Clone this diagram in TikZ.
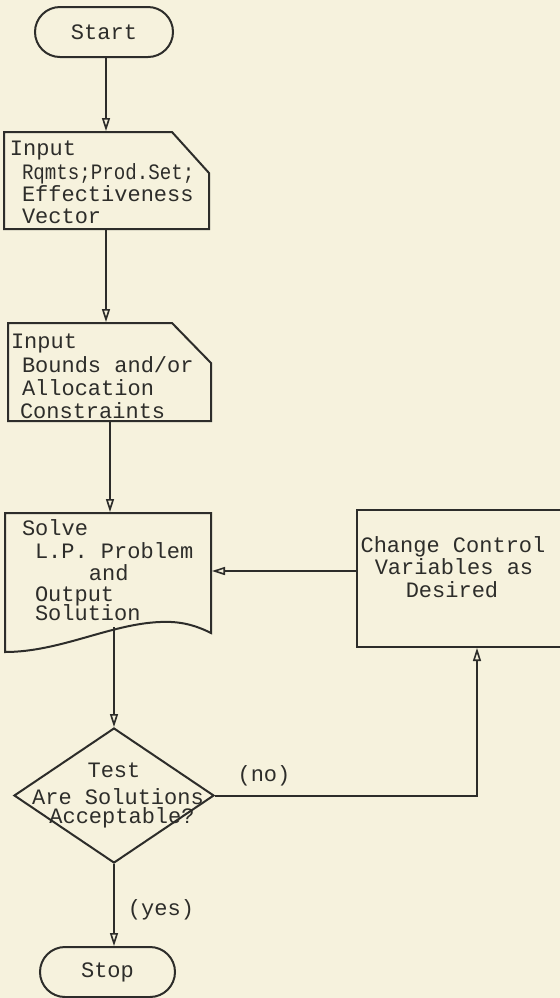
\documentclass[tikz,border=0pt]{standalone}
\usepackage{fontspec}
\setmonofont{Liberation Mono}
\usetikzlibrary{arrows.meta,shapes.geometric,calc}
\definecolor{paper}{RGB}{246,242,221}
\definecolor{ink}{RGB}{45,45,42}
\begin{document}
\begin{tikzpicture}[x=0.5pt,y=-0.5pt,
  font=\ttfamily\fontsize{11}{12}\selectfont,
  line width=1pt, draw=ink, text=ink,
  arr/.style={draw=ink,line width=1pt,-{Triangle[open,length=6.5pt,width=4pt,line width=0.8pt]}},
  shell/.style={rectangle,draw=none,inner sep=0pt},
  term/.style={rectangle,draw=ink,rounded corners=12.5pt,minimum height=25pt,inner sep=0pt},
  lbl/.style={inner sep=0pt,anchor=base west},
  clbl/.style={inner sep=0pt,anchor=base}]
\fill[paper] (0,0) rectangle (560,998);
\useasboundingbox (0,0) rectangle (560,998);
\clip (0,0) rectangle (560,998);

% Start
\node[term,minimum width=69pt] (start) at (104,32) {Start};

% Input 1 (card)
\node[shell,minimum width=102.5pt,minimum height=48.5pt] (in1) at (106,180.5) {};
\draw (4,229) -- (4,132) -- (172,132) -- (209,173) -- (209,229) -- cycle;
\node[lbl] (in1a) at (9,155) {Input};
\node[lbl] (in1b) at (21,179) {\scalebox{0.87}[1]{Rqmts;Prod.Set;}};
\node[lbl] (in1c) at (21,201) {Effectiveness};
\node[lbl] (in1d) at (21,223) {Vector};

% Input 2 (card)
\node[shell,minimum width=101.5pt,minimum height=49pt] (in2) at (110,372) {};
\draw (8,421) -- (8,323) -- (172,323) -- (211,363) -- (211,421) -- cycle;
\node[lbl] (in2a) at (10,348) {Input};
\node[lbl] (in2b) at (21,372) {Bounds and/or};
\node[lbl] (in2c) at (21,395) {Allocation};
\node[lbl] (in2d) at (19,418) {Constraints};

% Solve (document)
\node[shell,minimum width=103pt,minimum height=69.5pt] (solve) at (108,582.5) {};
\draw (5,652) -- (5,513) -- (211,513) -- (211,633)
  .. controls (195,625) and (180,621) .. (160,622)
  .. controls (110,624) and (60,652) .. (5,652) -- cycle;
\coordinate (solveb) at (114,627);
\node[lbl] (s1) at (21,535) {Solve};
\node[lbl] (s2) at (34,558) {L.P. Problem};
\node[lbl] (s3) at (88,580) {and};
\node[lbl] (s4) at (34,601) {Output};
\node[lbl] (s5) at (34,620) {Solution};

% Change box
\node[rectangle,draw=ink,minimum width=120pt,minimum height=68.5pt,inner sep=0pt] (change) at (477,578.5) {};
\node[clbl] (c1) at (453,552) {Change Control};
\node[clbl] (c2) at (454,574) {Variables as};
\node[clbl] (c3) at (452,597) {Desired};

% Decision
\node[diamond,draw=ink,minimum width=100pt,minimum height=67.5pt,inner sep=0pt] (dia) at (114,795.5) {};
\node[clbl] (d1) at (114,777) {Test};
\node[clbl] (d2) at (118,804) {Are Solutions};
\node[clbl] (d3) at (122,823) {Acceptable?};

% Stop
\node[term,minimum width=67.5pt] (stop) at (107.5,972) {Stop};

% Connectors
\draw[arr] ([xshift=1pt]start.south) -- ([xshift=1pt]start.south |- in1.north);
\draw[arr] (in1.south) -- (in1.south |- in2.north);
\draw[arr] (in2.south) -- (in2.south |- solve.north);
\draw[arr] (solveb) -- (dia.north);
\draw[arr] ([yshift=3.75pt]change.west) -- ([yshift=3.75pt]change.west -| solve.east);
\draw[arr] (dia.east) -| (change.south);
\draw[arr] (dia.south) -- (dia.south |- stop.north);

% Labels
\node[clbl] (no) at (264,781) {(no)};
\node[clbl] (yes) at (161,915) {(yes)};
\end{tikzpicture}
\end{document}
